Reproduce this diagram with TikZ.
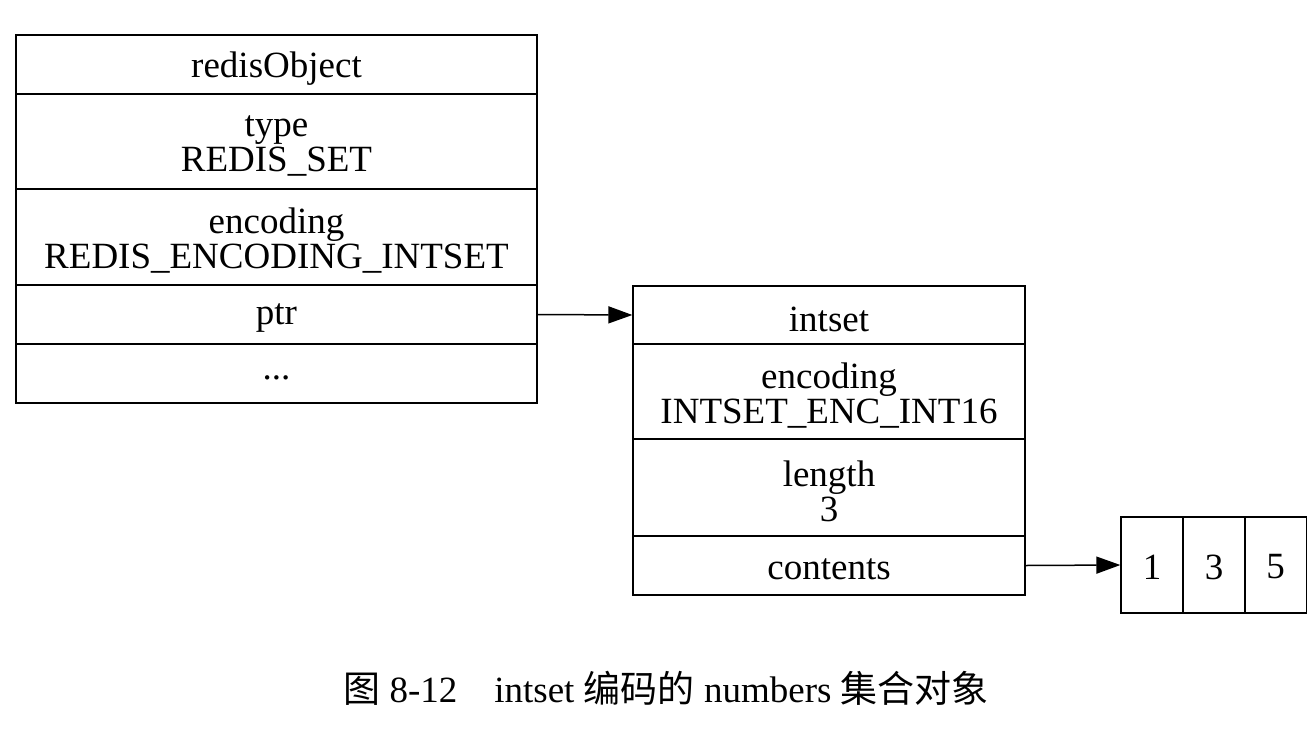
\documentclass[tikz,border=0pt]{standalone}
\usepackage{fontspec}
\setmainfont{Liberation Serif}
\newfontfamily\cjk{Noto Sans CJK SC}
\usetikzlibrary{arrows.meta}
\begin{document}
\begin{tikzpicture}
[x=0.5pt,y=-0.5pt,
  celldecorate/.style={shape=rectangle,draw,line width=0.65pt,inner sep=0pt},%
  textdecorate/.style={inner sep=0pt,align=center,font=\fontsize{18.5}{17.5}\selectfont},%
  linedecorate/.style={line width=0.75pt,-{Triangle[length=12pt,width=8.5pt]}}]
\useasboundingbox (0,0) rectangle (1316,728);
%% redisObject fields
\foreach \nodename/\top/\bot/\txt in {robj/35/94/redisObject,
    type/94/189/{type\\REDIS\_SET},
    enc/189/285/{encoding\\REDIS\_ENCODING\_INTSET},
    ptr/285/344/ptr, more/344/403/{{..}.}} {
  \node (\nodename) at (276.5,{(\top+\bot)/2})
    [celldecorate,minimum width=260.5pt,minimum height={(\bot-\top)*0.5pt}] {};
  \node (\nodename-txt) at ([yshift=-2pt]\nodename.center) [textdecorate] {\txt};
}
%% intset fields
\foreach \nodename/\top/\bot/\txt in {iset/286/344/intset,
    isenc/344/439/{encoding\\INTSET\_ENC\_INT16},
    islen/439/536/{length\\3},
    contents/536/595/contents} {
  \node (\nodename) at (829,{(\top+\bot)/2})
    [celldecorate,minimum width=196pt,minimum height={(\bot-\top)*0.5pt}] {};
  \node (\nodename-txt) at ([yshift=-2pt]\nodename.center) [textdecorate] {\txt};
}
%% contents array
\foreach \nodename/\x/\txt in {a1/1152/1, a3/1214/3, a5/1275.5/5} {
  \node (\nodename) at (\x,565)
    [celldecorate,minimum width=31pt,minimum height=48pt] {};
  \node (\nodename-txt) at ([yshift=-1pt]\nodename.center) [textdecorate] {\txt};
}
%% pointers
\draw[linedecorate] (ptr.east) -- (iset.west);
\draw[linedecorate] (contents.east) -- (a1.west);
%% caption
\node (caption) at (666,688) [font=\fontsize{18.5}{22}\selectfont]
  {{\cjk 图} 8-12\hspace{1em}intset {\cjk 编码的} numbers {\cjk 集合对象}};
\end{tikzpicture}
\end{document}
